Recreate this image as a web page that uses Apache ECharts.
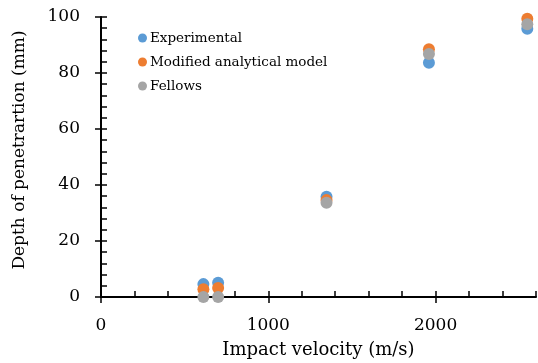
<!DOCTYPE html>
<html lang="en">
<head>
    <meta charset="UTF-8">
    <title>Depth of penetration</title>
    <script src="https://cdn.jsdelivr.net/npm/echarts@6/dist/echarts.min.js"></script>
    <style type="text/css">
        html, body { margin: 0; padding: 0; background: #fff; }
        #main { width: 538px; height: 363px; }
    </style>
</head>
<body>
    <div id="main"></div>
    <script type="text/javascript">
    // impact velocity (m/s)
    var velocity = [612, 700, 1348, 1960, 2548];
    // depth of penetration (mm)
    var experimental = [4.6, 5.1, 35.8, 83.7, 95.8];
    var modifiedModel = [2.8, 3.2, 34.6, 88.5, 99.4];
    var fellows = [0, 0, 33.7, 86.8, 97.4];
    var seriesNames = ['Experimental', 'Modified analytical model', 'Fellows'];
    var xLabels = [0, 1000, 2000];
    var yLabels = [0, 20, 40, 60, 80, 100];

    var colors = ['#5B9BD5', '#ED7D31', '#A5A5A5'];
    var font = 'DejaVu Serif';

    function pairs(ys) {
        var out = [];
        for (var i = 0; i < velocity.length; i++) {
            out.push([velocity[i], ys[i]]);
        }
        return out;
    }

    var myChart = echarts.init(document.getElementById('main'));

    var axisLine = { show: true, lineStyle: { color: '#000', width: 2 } };

    var option = {
        animation: false,
        color: colors,
        grid: { left: 101, right: 2, top: 17, bottom: 66, outerBoundsMode: 'none' },
        legend: {
            orient: 'vertical',
            left: 138,
            top: 30,
            padding: 0,
            icon: 'circle',
            itemWidth: 9,
            itemHeight: 9,
            itemGap: 8,
            textStyle: { fontFamily: font, fontSize: 13.5, color: '#000', lineHeight: 16, padding: [0, 0, 0, -2] },
            data: seriesNames
        },
        xAxis: [{
            type: 'value',
            min: 0,
            max: 2600,
            interval: 200,
            name: 'Impact velocity (m/s)',
            nameLocation: 'middle',
            nameGap: 44,
            nameTextStyle: { fontFamily: font, fontSize: 18, color: '#000' },
            axisLine: axisLine,
            axisTick: { show: true, inside: true, length: 6, lineStyle: { color: '#000', width: 1.5 } },
            axisLabel: {
                fontFamily: font, fontSize: 17, color: '#000', margin: 20,
                formatter: function(v) { return xLabels.indexOf(v) >= 0 ? v : ''; }
            },
            splitLine: { show: false }
        }, {
            type: 'value',
            min: 0,
            max: 2600,
            position: 'bottom',
            axisLine: { show: false },
            axisTick: { show: true, inside: false, length: 6, customValues: xLabels, lineStyle: { color: '#000', width: 1.5 } },
            axisLabel: { show: false },
            splitLine: { show: false }
        }],
        yAxis: [{
            type: 'value',
            min: 0,
            max: 100,
            interval: 4,
            name: 'Depth of penetrartion (mm)',
            nameLocation: 'middle',
            nameGap: 73,
            nameTextStyle: { fontFamily: font, fontSize: 17, color: '#000', padding: [0, 0, 0, 14] },
            axisLine: axisLine,
            axisTick: { show: true, inside: true, length: 6, lineStyle: { color: '#000', width: 1.5 } },
            axisLabel: {
                fontFamily: font, fontSize: 17, color: '#000', margin: 21,
                formatter: function(v) { return yLabels.indexOf(v) >= 0 ? v : ''; }
            },
            splitLine: { show: false }
        }, {
            type: 'value',
            min: 0,
            max: 100,
            position: 'left',
            axisLine: { show: false },
            axisTick: { show: true, inside: false, length: 6, customValues: yLabels, lineStyle: { color: '#000', width: 1.5 } },
            axisLabel: { show: false },
            splitLine: { show: false }
        }],
        series: [{
            name: seriesNames[0],
            type: 'scatter',
            symbolSize: 12,
            itemStyle: { opacity: 1 },
            data: pairs(experimental)
        }, {
            name: seriesNames[1],
            type: 'scatter',
            symbolSize: 12,
            itemStyle: { opacity: 1 },
            data: pairs(modifiedModel)
        }, {
            name: seriesNames[2],
            type: 'scatter',
            symbolSize: 12,
            itemStyle: { opacity: 1 },
            data: pairs(fellows)
        }]
    };

    myChart.setOption(option);
    </script>
</body>
</html>
